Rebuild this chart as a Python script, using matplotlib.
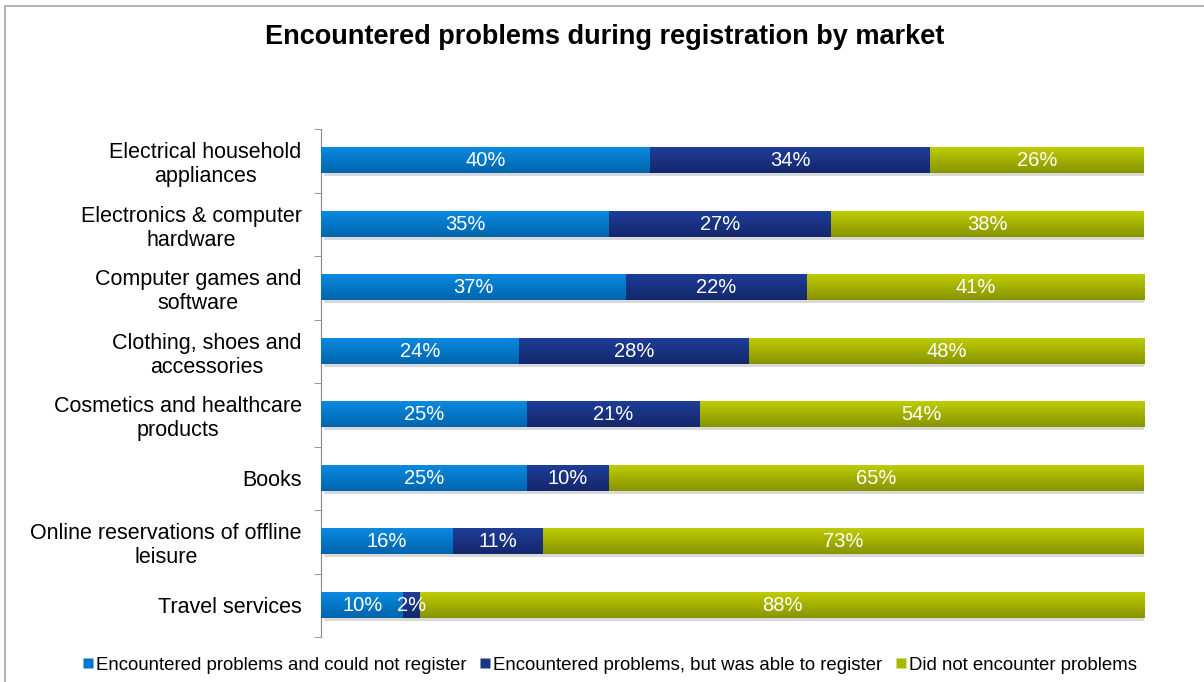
import numpy as np
import matplotlib
matplotlib.use("Agg")
import matplotlib.pyplot as plt
from matplotlib.lines import Line2D
from matplotlib.patches import Rectangle
import matplotlib.patheffects as pe

plt.rcParams['font.family'] = ['Liberation Sans', 'DejaVu Sans']

title = "Encountered problems during registration by market"
markets = ["Electrical household\nappliances",
           "Electronics & computer\nhardware",
           "Computer games and\nsoftware",
           "Clothing, shoes and\naccessories",
           "Cosmetics and healthcare\nproducts",
           "Books",
           "Online reservations of offline\nleisure",
           "Travel services"]
could_not = [40, 35, 37, 24, 25, 25, 16, 10]
was_able = [34, 27, 22, 28, 21, 10, 11, 2]
no_problems = [26, 38, 41, 48, 54, 65, 73, 88]
series_names = ["Encountered problems and could not register",
                "Encountered problems, but was able to register",
                "Did not encounter problems"]

# gradient top / bottom colours + legend colour
grads = [("#0a8ae0", "#0064ac"), ("#1f3d98", "#13286c"), ("#bdcc00", "#879400")]
legend_cols = ["#0074c8", "#1c3585", "#a9b800"]

W, H = 1204, 682
fig = plt.figure(figsize=(W / 100, H / 100), dpi=100)
ax = fig.add_axes([321 / W, 1 - 637 / H, (1144 - 321) / W, (637 - 129) / H])

# outer chart frame
fig.patches.append(Rectangle((5 / W, -0.1), 1.2, 1 - 6 / H + 0.1, transform=fig.transFigure,
                             fill=False, edgecolor="#a6a6a6", linewidth=1.2))

n = len(markets)
y = np.arange(n)[::-1]
data = np.array([could_not, was_able, no_problems], dtype=float)
data = data / data.sum(axis=0) * 100
left = np.zeros(n)
bh = 0.4
for k in range(3):
    bars = ax.barh(y, data[k], left=left, height=bh, color=grads[k][1], linewidth=0,
                   zorder=2)
    for b in bars:
        b.set_path_effects([pe.SimplePatchShadow(offset=(2, -2), shadow_rgbFace="#000000",
                                                 alpha=0.15), pe.Normal()])
    c1 = np.array(matplotlib.colors.to_rgb(grads[k][0]))
    c2 = np.array(matplotlib.colors.to_rgb(grads[k][1]))
    t = np.linspace(0, 1, 32)[:, None]
    grad = (c1 * (1 - t) + c2 * t)[:, None, :]
    for i in range(n):
        ax.imshow(grad, extent=[left[i], left[i] + data[k][i], y[i] - bh / 2, y[i] + bh / 2],
                  aspect="auto", origin="upper", zorder=3, interpolation="bilinear")
        raw = [could_not, was_able, no_problems][k][i]
        ax.text(left[i] + data[k][i] / 2, y[i], f"{raw}%", ha="center", va="center",
                color="white", fontsize=14.5, zorder=4)
    left = left + data[k]

ax.set_xlim(0, 100)
ax.set_ylim(-0.5, n - 0.5)
ax.set_yticks(y)
ax.set_yticklabels(markets, fontsize=15.5, multialignment="center", linespacing=1.2)
ax.set_yticks(np.arange(-0.5, n, 1), minor=True)
ax.tick_params(axis="y", which="major", length=0, pad=14)
ax.tick_params(axis="y", which="minor", length=5, color="#868686")
ax.set_xticks([])
for s in ["top", "right", "bottom"]:
    ax.spines[s].set_visible(False)
ax.spines["left"].set_color("#868686")
ax.set_facecolor("none")

fig.text(605 / W, 1 - 37 / H, title, ha="center", va="center", fontsize=19.5,
         fontweight="bold")

handles = [Line2D([], [], marker="s", linestyle="none", markersize=7,
                  markerfacecolor=c, markeredgecolor="none") for c in legend_cols]
fig.legend(handles, series_names, loc="center", bbox_to_anchor=(610 / W, 1 - 665 / H),
           ncol=3, frameon=False, fontsize=13.4, handlelength=0.55, handletextpad=0.15,
           columnspacing=0.75, borderpad=0)

fig.savefig("out.png", dpi=100)
